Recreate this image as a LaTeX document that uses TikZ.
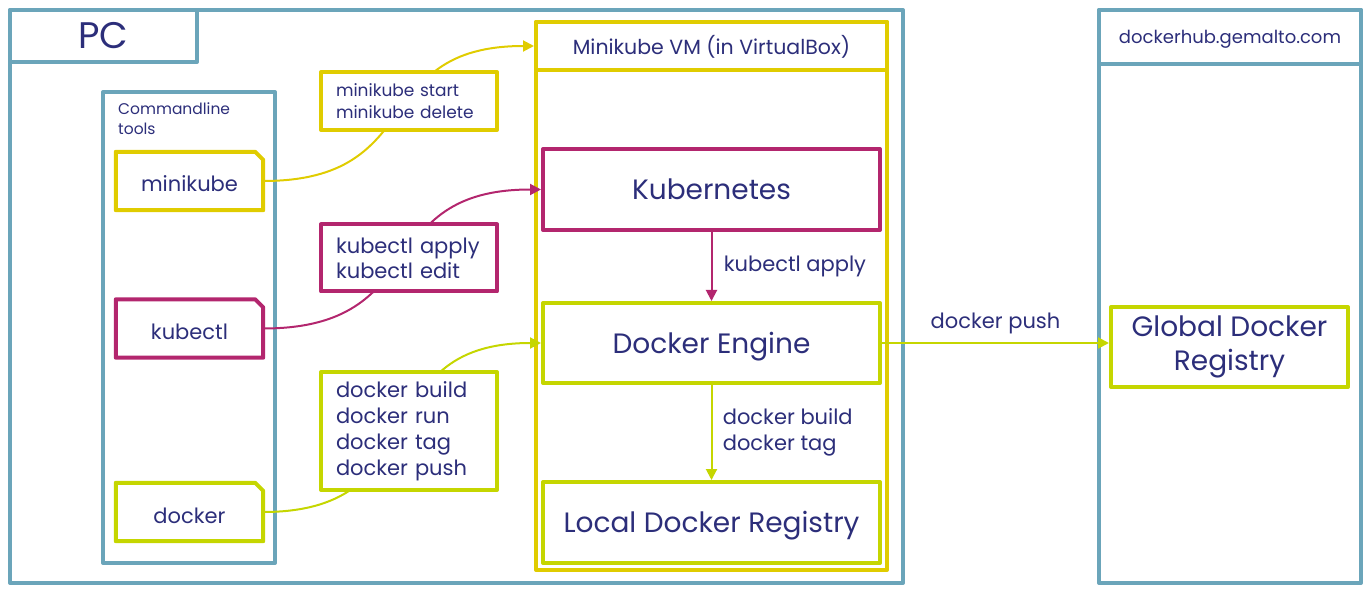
\documentclass[tikz,border=0pt]{standalone}
\usepackage{fontspec}
\setmainfont{Poppins}
\usetikzlibrary{positioning,arrows.meta}

\definecolor{frameblue}{RGB}{107,165,186}
\definecolor{gold}{RGB}{224,204,0}
\definecolor{lime}{RGB}{197,214,0}
\definecolor{plum}{RGB}{179,38,110}
\definecolor{navy}{RGB}{44,46,122}

\begin{document}
\begin{tikzpicture}[x=1pt,y=-1pt,text=navy,
    frame/.style={draw=frameblue,line width=4pt,line join=round,
                  minimum width=#1,inner sep=0pt},
    area/.style={draw=#1,line width=4pt,line join=round,fill=white,inner sep=0pt},
    tool/.style={minimum width=147,minimum height=58,inner sep=0pt,
                 text height=22pt,text depth=0pt,
                 font=\fontsize{21}{25}\selectfont},
    cmd/.style={draw=#1,line width=4pt,fill=white,line join=round,
                text width=146,align=left,inner xsep=15,inner ysep=0pt},
    big/.style={font=\fontsize{28}{34}\selectfont,text height=20pt,text depth=0pt},
    link/.style={draw=#1,line width=2pt,-{Triangle[length=11pt,width=11pt]}},
    lbl/.style={font=\fontsize{21}{26}\selectfont,align=left}]
  \useasboundingbox (0,0) rectangle (1370,593);

  % PC side
  \node[frame=893,minimum height=573] (pc) at (456.5,296.5) {};
  \node[frame=187,minimum height=52,font=\fontsize{37}{40}\selectfont]
    (pctitle) at (103.5,36) {PC};
  \node[frame=172,minimum height=471] (tools) at (189,327.5) {};
  \node[anchor=north west,align=left,inner sep=0pt,font=\fontsize{15.5}{20}\selectfont]
    (toolstitle) at (118,103) {Commandline\\tools};

  % command line tools, drawn as file icons
  \node[tool] (minikube) at (189.5,181) {minikube};
  \node[tool] (kubectl) at (189.5,328.5) {kubectl};
  \node[tool] (docker) at (189.5,512) {docker};
  \foreach \t/\c in {minikube/gold,kubectl/plum,docker/lime}
    \draw[draw=\c,line width=4pt,line join=round]
      (\t.north west) -- ([xshift=-8pt]\t.north east)
      -- ([yshift=-8pt]\t.north east) -- (\t.south east)
      -- (\t.south west) -- cycle;

  % Minikube VM
  \node[area=gold,minimum width=351,minimum height=548] (vm) at (711.5,296) {};
  \node[area=gold,minimum width=351,minimum height=48,
        text height=18pt,text depth=0pt,font=\fontsize{20.5}{24}\selectfont]
    (vmhead) at (711.5,46) {Minikube VM (in VirtualBox)};
  \node[area=plum,minimum width=337,minimum height=81,big] (kube) at (711.5,189.5)
    {Kubernetes};
  \node[area=lime,minimum width=337,minimum height=80,big] (engine) at (711.5,343)
    {Docker Engine};
  \node[area=lime,minimum width=337,minimum height=81,big] (local) at (711.5,522.5)
    {Local Docker Registry};

  % dockerhub
  \node[frame=262,minimum height=573] (hub) at (1230,296.5) {};
  \node[frame=262,minimum height=54,text height=13pt,text depth=0pt,
        font=\fontsize{18}{22}\selectfont]
    (hubhead) at (1230,37) {dockerhub.gemalto.com};
  \node[area=lime,minimum width=237,minimum height=80,align=center,
        font=\fontsize{28}{34}\selectfont] (global) at (1229.5,347)
    {Global Docker\\Registry};

  % connectors
  \draw[link=gold] (minikube.east) to[out=0,in=180,looseness=1.4] (vmhead.west);
  \draw[link=plum] (kubectl.east) to[out=0,in=180,looseness=1.4] (kube.west);
  \draw[link=lime] (docker.east) to[out=0,in=180,looseness=1.4] (engine.west);
  \draw[link=plum] (kube) -- (engine)
    node[lbl,midway,right=8pt] {kubectl apply};
  \draw[link=lime] (engine) -- (local)
    node[lbl,midway,right=7pt] {docker build\\docker tag};
  \draw[link=lime] (engine) -- (global.west |- engine)
    node[lbl,midway,above=5pt] {docker push};

  % commands on top of the connectors
  \node[cmd=gold,minimum height=58,font=\fontsize{17}{22}\selectfont]
    (minikubecmd) at (409,101) {minikube start\\minikube delete};
  \node[cmd=plum,minimum height=67,font=\fontsize{21}{25}\selectfont]
    (kubectlcmd) at (409,258) {kubectl apply\\kubectl edit};
  \node[cmd=lime,minimum height=118,font=\fontsize{21}{26}\selectfont]
    (dockercmd) at (409,431) {docker build\\docker run\\docker tag\\docker push};
\end{tikzpicture}
\end{document}
